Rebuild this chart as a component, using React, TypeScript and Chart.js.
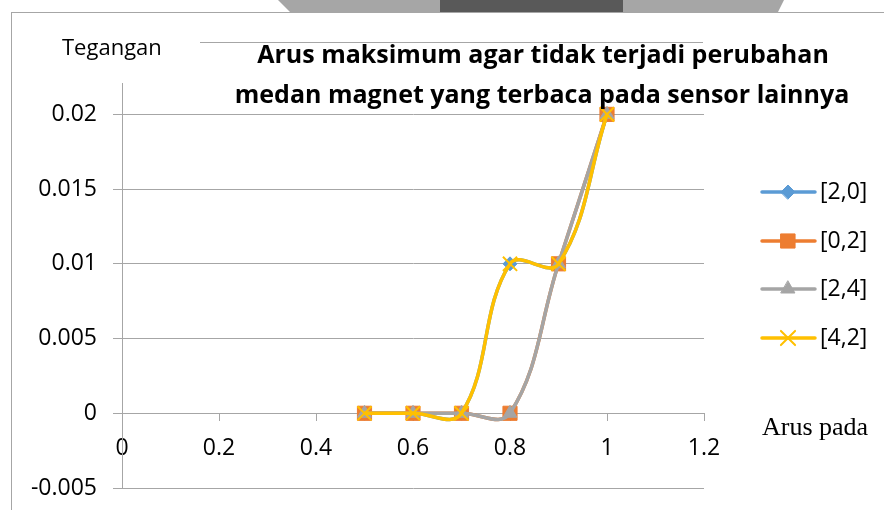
import React, { useEffect, useRef } from 'react';
import { Chart, registerables } from 'chart.js';
import * as helpers from 'chart.js/helpers';

Chart.register(...registerables);

// ---- data ----
const xValues = [0.5, 0.6, 0.7, 0.8, 0.9, 1.0];
const series20 = [0, 0, 0, 0.01, 0.01, 0.02];
const series02 = [0, 0, 0, 0, 0.01, 0.02];
const series24 = [0, 0, 0, 0, 0.01, 0.02];
const series42 = [0, 0, 0, 0.01, 0.01, 0.02];
const seriesNames = ['[2,0]', '[0,2]', '[2,4]', '[4,2]'];
const xTickValues = [0, 0.2, 0.4, 0.6, 0.8, 1, 1.2];
const xTickLabels = ['0', '0.2', '0.4', '0.6', '0.8', '1', '1.2'];
const yTickValues = [-0.005, 0, 0.005, 0.01, 0.015, 0.02];
const yTickLabels = ['-0.005', '0', '0.005', '0.01', '0.015', '0.02'];
const titleLines = [
  'Arus maksimum agar tidak terjadi perubahan',
  'medan magnet yang terbaca pada sensor lainnya',
];
const yAxisTitle = 'Tegangan';
const xAxisTitle = 'Arus pada';

// ---- styles ----
const colors = ['#5b9bd5', '#ed7d31', '#a5a5a5', '#ffc000'];
const pointStyles = ['rectRot', 'rect', 'triangle', 'crossRot'];
const pointRadii = [7, 10, 8, 10];
const pointBorders = [1, 1, 1, 2];
const gridColor = '#a6a6a6';
const sansFont = '"Open Sans", "Noto Sans", sans-serif';

const textPlugin = {
  id: 'customText',
  afterDraw(chart: any) {
    const ctx = chart.ctx;
    ctx.save();
    ctx.fillStyle = '#000';
    ctx.textBaseline = 'alphabetic';
    // title
    ctx.textAlign = 'center';
    ctx.font = `bold 25px ${sansFont}`;
    ctx.fillText(titleLines[0], 543, 63);
    ctx.fillText(titleLines[1], 542, 103);
    // y axis title
    ctx.textAlign = 'left';
    ctx.font = `22px ${sansFont}`;
    ctx.fillText(yAxisTitle, 62, 55);
    // x axis title
    ctx.font = `26px "Liberation Serif", "Times New Roman", serif`;
    ctx.fillText(xAxisTitle, 762, 435);
    // legend
    const rows = [192, 241, 289, 338];
    chart.data.datasets.forEach((ds: any, i: number) => {
      const y = rows[i];
      ctx.strokeStyle = ds.borderColor;
      ctx.lineWidth = 3.5;
      ctx.lineCap = 'round';
      ctx.beginPath();
      ctx.moveTo(762, y);
      ctx.lineTo(815, y);
      ctx.stroke();
      ctx.fillStyle = ds.pointBackgroundColor;
      ctx.strokeStyle = ds.pointBorderColor;
      ctx.lineWidth = ds.pointBorderWidth;
      helpers.drawPoint(ctx, { pointStyle: ds.pointStyle, radius: ds.pointRadius, rotation: 0, borderWidth: ds.pointBorderWidth }, 788, y);
      ctx.fillStyle = '#000';
      ctx.font = `23px ${sansFont}`;
      ctx.textAlign = 'left';
      ctx.textBaseline = 'middle';
      ctx.fillText(ds.label, 820, y);
    });
    ctx.restore();
  },
};

export default function App() {
  const ref = useRef<HTMLCanvasElement | null>(null);

  useEffect(() => {
    if (!ref.current) return;
    const allSeries = [series20, series02, series24, series42];
    const chart = new Chart(ref.current, {
      type: 'line',
      data: {
        datasets: allSeries.map((s, i) => ({
          label: seriesNames[i],
          data: xValues.map((x, j) => ({ x, y: s[j] })),
          borderColor: colors[i],
          backgroundColor: colors[i],
          borderWidth: 3.5,
          tension: 0.4,
          pointStyle: pointStyles[i] as any,
          pointRadius: pointRadii[i],
          pointBackgroundColor: colors[i],
          pointBorderColor: colors[i],
          pointBorderWidth: pointBorders[i],
          order: 4 - i,
          fill: false,
        })),
      },
      options: {
        responsive: false,
        animation: false,
        events: [],
        layout: { padding: { left: 0, right: 180, top: 83, bottom: 22 } },
        plugins: {
          legend: { display: false },
          title: { display: false },
          tooltip: { enabled: false },
        },
        scales: {
          x: {
            type: 'linear',
            min: 0,
            max: 1.2,
            position: { y: 0 } as any,
            afterBuildTicks: (scale: any) => {
              scale.ticks = xTickValues.map((v) => ({ value: v }));
            },
            afterFit: (scale: any) => {
              scale.height = 0;
              scale.paddingLeft = 0;
              scale.paddingRight = 0;
              scale.paddingTop = 0;
              scale.paddingBottom = 0;
            },
            ticks: {
              callback: (_v: any, i: number) => xTickLabels[i],
              color: '#000',
              font: { family: sansFont, size: 23 },
              padding: 14,
              maxRotation: 0,
              autoSkip: false,
            },
            grid: {
              drawOnChartArea: false,
              drawTicks: true,
              tickLength: 7,
              color: gridColor,
            },
            border: { display: true, color: gridColor, width: 1 },
          },
          y: {
            type: 'linear',
            min: -0.005,
            max: 0.0221,
            afterBuildTicks: (scale: any) => {
              scale.ticks = yTickValues.map((v) => ({ value: v }));
            },
            afterFit: (scale: any) => {
              scale.width = 122;
              scale.paddingLeft = 0;
              scale.paddingRight = 0;
              scale.paddingTop = 0;
              scale.paddingBottom = 0;
            },
            ticks: {
              callback: (_v: any, i: number) => yTickLabels[i],
              color: '#000',
              font: { family: sansFont, size: 23 },
              padding: 16,
              autoSkip: false,
              includeBounds: false,
            },
            grid: {
              drawOnChartArea: true,
              drawTicks: true,
              tickLength: 9,
              color: gridColor,
            },
            border: { display: true, color: gridColor, width: 1 },
          },
        },
      },
      plugins: [textPlugin],
    });
    return () => chart.destroy();
  }, []);

  return (
    <div style={{ position: 'fixed', left: 0, top: 0, width: 884, height: 510, background: '#fff', overflow: 'hidden' }}>
      <div
        style={{
          position: 'absolute', left: 0, top: 0, width: 884, height: 12,
          background: '#a6a6a6',
          clipPath: 'polygon(278px 0, 784px 0, 778px 12px, 290px 12px)',
        }}
      />
      <div style={{ position: 'absolute', left: 440, top: 0, width: 183, height: 12, background: '#595959' }} />
      <div style={{ position: 'absolute', left: 11, top: 12, width: 873, height: 1, background: '#a6a6a6' }} />
      <div style={{ position: 'absolute', left: 11, top: 12, width: 1, height: 498, background: '#a6a6a6' }} />
      <div style={{ position: 'absolute', left: 200, top: 42, width: 503, height: 1, background: '#a6a6a6' }} />
      <canvas ref={ref} width={884} height={510} style={{ position: 'absolute', left: 0, top: 0 }} />
    </div>
  );
}
